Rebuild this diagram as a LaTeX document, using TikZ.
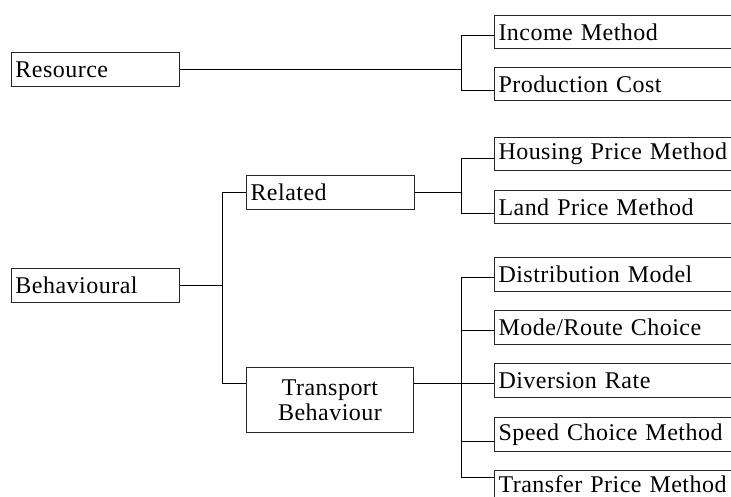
\documentclass[tikz,border=0pt]{standalone}
\usepackage{fontspec}
\setmainfont{Liberation Serif}[LetterSpace=2]
\begin{document}
\begin{tikzpicture}[x=1pt,y=-1pt,
  box/.style={draw=black!85, line width=1pt, rectangle, inner ysep=0pt, inner xsep=4pt,
    font=\fontsize{24}{25}\selectfont, anchor=north west},
  lbox/.style={box, text width=#1-8pt, align=left, minimum height=34pt},
  rbox/.style={box, text width=242pt, align=left, minimum height=33.5pt},
  conn/.style={line width=0.9pt, black}]
\useasboundingbox (0,0) rectangle (731,497);
% left level
\node[lbox=168pt] (res) at (11,52) {Resource};
\node[lbox=168pt] (beh) at (11,268) {Behavioural};
\node[lbox=168pt] (rel) at (246,175) {Related};
\node[box, text width=159pt, align=center, minimum height=65pt] (tb) at (246,367) {Transport\\Behaviour};
% right level
\node[rbox] (inc) at (494,15) {Income Method};
\node[rbox] (pc) at (494,67) {Production Cost};
\node[rbox] (hp) at (494,137) {Housing Price Method};
\node[rbox] (lp) at (494,190) {Land Price Method};
\node[rbox] (dm) at (494,257) {Distribution Model};
\node[rbox] (mr) at (494,310) {Mode/Route Choice};
\node[rbox] (dr) at (494,363) {Diversion Rate};
\node[rbox] (sc) at (494,417) {Speed Choice Method};
\node[rbox] (tp) at (494,470) {\raisebox{6pt}{Transfer Price Method}};
% trunk coordinates
\coordinate (k1) at (461,35);
\coordinate (k2) at (461,90);
\coordinate (h1) at (461,158);
\coordinate (h2) at (461,213);
\coordinate (b1) at (222,192);
\coordinate (b2) at (222,383.5);
\coordinate (t1) at (461,277);
\coordinate (t2) at (461,330);
\coordinate (t3) at (461,383.5);
\coordinate (t4) at (461,441);
\coordinate (t5) at (461,477);
% Resource
\draw[conn] (res.east) -- (res.east -| k1);
\draw[conn] (k1) -- (k2);
\draw[conn] (k1) -- (k1 -| inc.west);
\draw[conn] (k2) -- (k2 -| pc.west);
% Behavioural
\draw[conn] (beh.east) -- (beh.east -| b1);
\draw[conn] (b1) -- (b2);
\draw[conn] (b1) -- (b1 -| rel.west);
\draw[conn] (b2) -- (b2 -| tb.west);
% Related
\draw[conn] (rel.east) -- (rel.east -| h1);
\draw[conn] (h1) -- (h2);
\draw[conn] (h1) -- (h1 -| hp.west);
\draw[conn] (h2) -- (h2 -| lp.west);
% Transport Behaviour
\draw[conn] (t3 -| tb.east) -- (t3);
\draw[conn] (t1) -- (t5);
\draw[conn] (t1) -- (t1 -| dm.west);
\draw[conn] (t2) -- (t2 -| mr.west);
\draw[conn] (t3) -- (t3 -| dr.west);
\draw[conn] (t4) -- (t4 -| sc.west);
\draw[conn] (t5) -- (t5 -| tp.west);
\end{tikzpicture}
\end{document}
